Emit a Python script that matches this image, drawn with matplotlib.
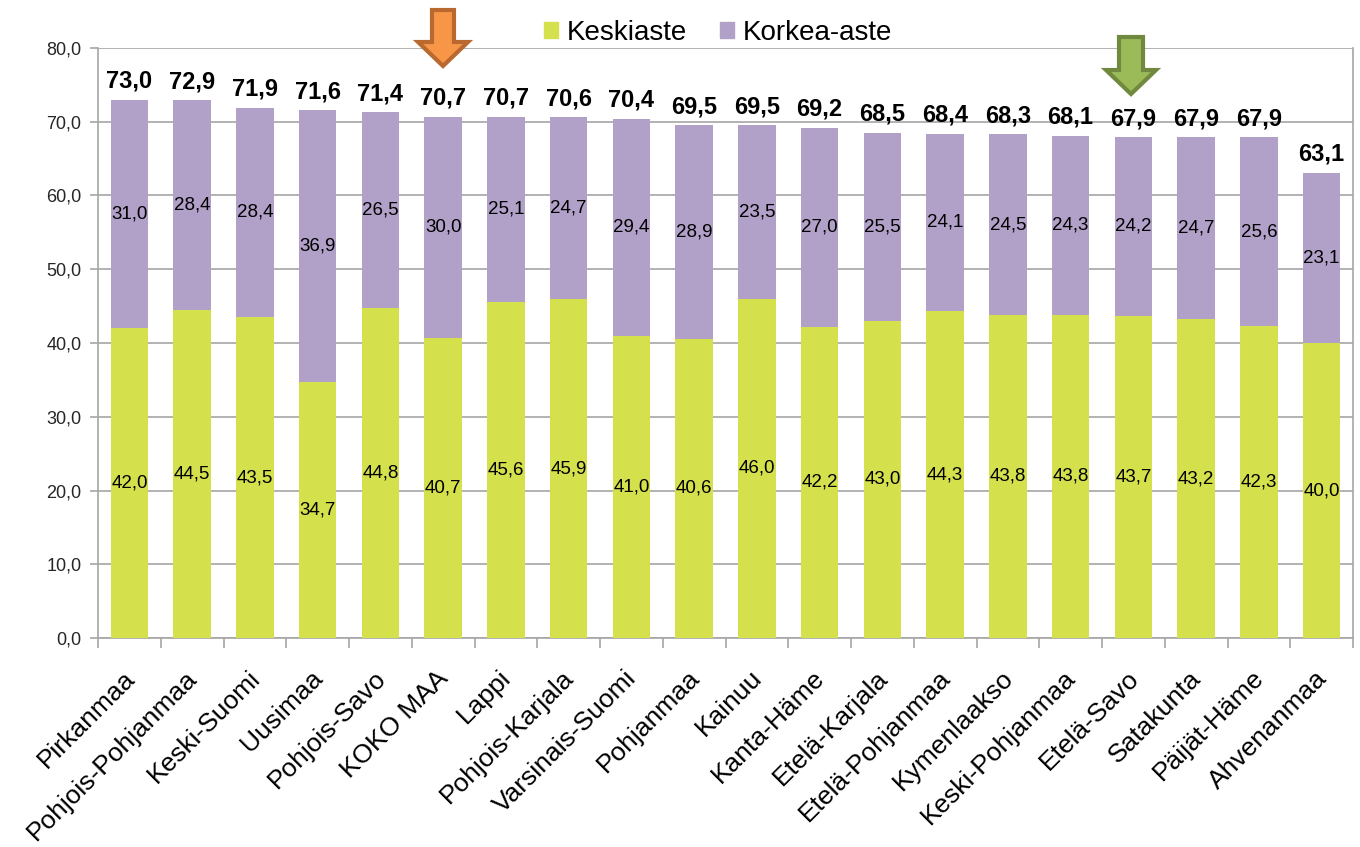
import matplotlib
matplotlib.use("Agg")
import matplotlib.pyplot as plt
from matplotlib.patches import Polygon, Patch
import numpy as np

plt.rcParams['font.family'] = ['Liberation Sans', 'DejaVu Sans']

regions = ["Pirkanmaa", "Pohjois-Pohjanmaa", "Keski-Suomi", "Uusimaa", "Pohjois-Savo",
           "KOKO MAA", "Lappi", "Pohjois-Karjala", "Varsinais-Suomi", "Pohjanmaa",
           "Kainuu", "Kanta-Häme", "Etelä-Karjala", "Etelä-Pohjanmaa", "Kymenlaakso",
           "Keski-Pohjanmaa", "Etelä-Savo", "Satakunta", "Päijät-Häme", "Ahvenanmaa"]
keskiaste = [42.0, 44.5, 43.5, 34.7, 44.8, 40.7, 45.6, 45.9, 41.0, 40.6,
             46.0, 42.2, 43.0, 44.3, 43.8, 43.8, 43.7, 43.2, 42.3, 40.0]
korkea_aste = [31.0, 28.4, 28.4, 36.9, 26.5, 30.0, 25.1, 24.7, 29.4, 28.9,
               23.5, 27.0, 25.5, 24.1, 24.5, 24.3, 24.2, 24.7, 25.6, 23.1]
totals = [73.0, 72.9, 71.9, 71.6, 71.4, 70.7, 70.7, 70.6, 70.4, 69.5,
          69.5, 69.2, 68.5, 68.4, 68.3, 68.1, 67.9, 67.9, 67.9, 63.1]
y_ticks = [0, 10, 20, 30, 40, 50, 60, 70, 80]

GREEN = "#D4E04C"
PURPLE = "#B1A0C7"
GRID = "#A6A6A6"

W, H = 1360, 847
fig = plt.figure(figsize=(W / 100, H / 100), dpi=100)
ax = fig.add_axes([98 / W, 1 - 638 / H, (1353 - 98) / W, (638 - 48) / H])

x = np.arange(len(regions))
bw = 0.6
ax.bar(x, keskiaste, bw, color=GREEN, zorder=3, label="Keskiaste")
ax.bar(x, korkea_aste, bw, bottom=keskiaste, color=PURPLE, zorder=3, label="Korkea-aste")

fmt = lambda v: f"{v:.1f}".replace(".", ",")
for i in range(len(regions)):
    ax.text(x[i], keskiaste[i] / 2, fmt(keskiaste[i]), ha='center', va='center',
            fontsize=13.5, color='black', zorder=4)
    ax.text(x[i], keskiaste[i] + korkea_aste[i] / 2, fmt(korkea_aste[i]), ha='center',
            va='center', fontsize=13.5, color='black', zorder=4)
    ax.annotate(fmt(totals[i]), (x[i], keskiaste[i] + korkea_aste[i]), xytext=(0, 5),
                textcoords='offset points', ha='center', va='bottom', fontsize=17,
                fontweight='bold', color='black', zorder=4)

ax.set_xlim(-0.5, len(regions) - 0.5)
ax.set_ylim(0, 80)
ax.set_yticks(y_ticks)
ax.set_yticklabels([fmt(v) for v in y_ticks], fontsize=13, color='#262626')
ax.yaxis.grid(True, color=GRID, linewidth=1.2, zorder=0)
ax.set_axisbelow(True)

# category labels
ax.set_xticks(x)
ax.set_xticklabels([])
ax.tick_params(axis='x', which='major', length=0)
for i, name in enumerate(regions):
    ax.annotate(name, (x[i], 0), xycoords=('data', 'axes fraction'),
                xytext=(-5, -20), textcoords='offset points', rotation=45,
                ha='right', va='top', rotation_mode='anchor', fontsize=19,
                color='black', annotation_clip=False)
ax.set_xticks(np.arange(-0.5, len(regions)), minor=True)
ax.tick_params(axis='x', which='minor', length=7, color=GRID, width=1.2)
ax.tick_params(axis='y', length=6, color=GRID, width=1.2, pad=6)

ax.spines['top'].set_visible(False)
for s in ['left', 'bottom', 'right']:
    ax.spines[s].set_color(GRID)
    ax.spines[s].set_linewidth(1.2)

handles = [Patch(color=GREEN, label="Keskiaste"), Patch(color=PURPLE, label="Korkea-aste")]
fig.legend(handles=handles, loc='center', bbox_to_anchor=(718 / W, 1 - 33 / H), ncol=2,
           frameon=False, fontsize=20, handlelength=0.5, handleheight=0.5,
           handletextpad=0.3, columnspacing=1.2)

def arrow(cx, top, shaft_hw, head_y, head_hw, tip, face, edge):
    pts = [(cx - shaft_hw, top), (cx + shaft_hw, top), (cx + shaft_hw, head_y),
           (cx + head_hw, head_y), (cx, tip), (cx - head_hw, head_y), (cx - shaft_hw, head_y)]
    pts = [(px / W, 1 - py / H) for px, py in pts]
    fig.patches.append(Polygon(pts, closed=True, facecolor=face, edgecolor=edge,
                               linewidth=3, transform=fig.transFigure, zorder=10))

arrow(443, 10, 11, 42, 25, 66, "#F79646", "#B9692F")
arrow(1131, 37, 12, 70, 25, 94, "#9BBB59", "#71893F")

fig.savefig("out.png", dpi=100)
